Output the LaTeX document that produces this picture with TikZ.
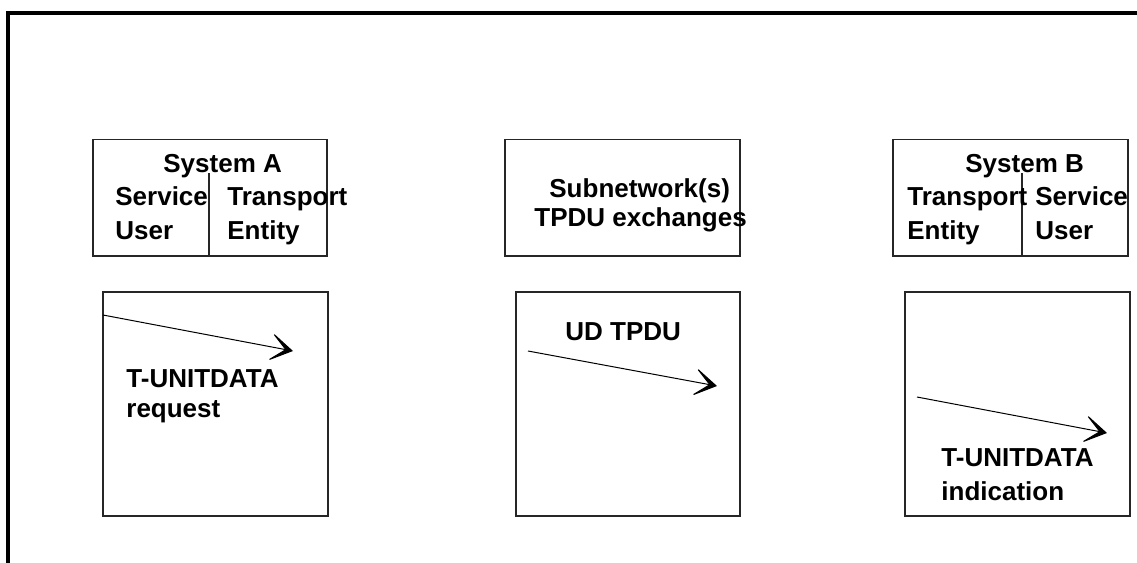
\documentclass[tikz,border=0pt]{standalone}
\usepackage{fontspec}
\setmainfont{Liberation Sans}
\usepackage{tikz}
\usetikzlibrary{calc}
\usetikzlibrary{arrows.meta}

\tikzset{
  frame/.style={line width=2pt},
  box/.style={draw=black!85,line width=0.6pt},
  lbl/.style={anchor=base west,inner sep=0pt,font=\fontsize{13}{15}\selectfont\bfseries},
  msg/.style={line width=0.5pt,-{Stealth[length=13pt,width=16pt,inset=9pt]}}
}

\begin{document}
\begin{tikzpicture}[x=0.5pt,y=-0.5pt]
       \useasboundingbox (0,0) rectangle (1137,563);

       %outer frame
       \draw[frame] (8,563) -- (8,12.5) -- (1137,12.5);

       %top boxes
       \draw[box] (93,139.5) rectangle (327,256);
       \draw[box] (209,173) -- (209,256);
       \draw[box] (505,139.5) rectangle (740,256);
       \draw[box] (893,139.5) rectangle (1128,256);
       \draw[box] (1022,173) -- (1022,256);

       \node[lbl] (sysa) at (163,172) {System A};
       \node[lbl] (sua1) at (115,205) {Service};
       \node[lbl] (sua2) at (115,239) {User};
       \node[lbl] (tea1) at (227,205) {Transport};
       \node[lbl] (tea2) at (227,239) {Entity};

       \node[lbl] (subn1) at (549,197) {Subnetwork(s)};
       \node[lbl] (subn2) at (534,226) {TPDU exchanges};

       \node[lbl] (sysb) at (965,172) {System B};
       \node[lbl] (teb1) at (907,205) {Transport};
       \node[lbl] (teb2) at (907,239) {Entity};
       \node[lbl] (sub1) at (1035,205) {Service};
       \node[lbl] (sub2) at (1035,239) {User};

       %bottom boxes
       \draw[box] (103,292) rectangle (328,516);
       \draw[box] (516,292) rectangle (740,516);
       \draw[box] (905,292) rectangle (1130,516);

       \coordinate (reqs) at (103,315);
       \coordinate (reqe) at (293,351);
       \coordinate (uds) at (528,351);
       \coordinate (ude) at (717,386);
       \coordinate (inds) at (917,397);
       \coordinate (inde) at (1107,433);
       \draw[msg] (reqs) -- (reqe);
       \draw[msg] (uds) -- (ude);
       \draw[msg] (inds) -- (inde);

       \node[lbl] (req1) at (126,387) {T-UNITDATA};
       \node[lbl] (req2) at (126,417) {request};
       \node[lbl] (ud) at (565,340) {UD TPDU};
       \node[lbl] (ind1) at (941,466) {T-UNITDATA};
       \node[lbl] (ind2) at (941,500) {indication};

\end{tikzpicture}
\end{document}
